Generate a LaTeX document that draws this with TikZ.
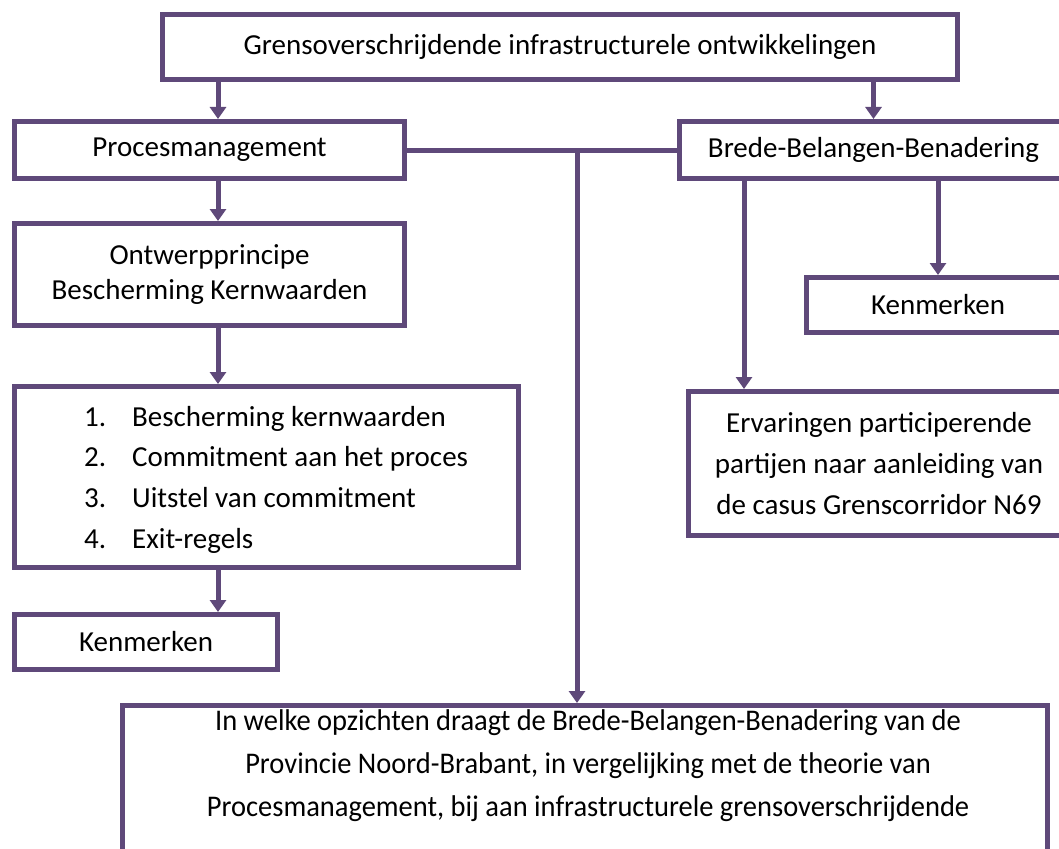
\documentclass[tikz,border=0pt]{standalone}
\usepackage{fontspec}
\setmainfont{Carlito}
\usetikzlibrary{arrows.meta,calc}
\definecolor{pc}{HTML}{5F497A}
\newcommand{\narrowline}[1]{\scalebox{0.95}[1]{#1}}
\begin{document}
\begin{tikzpicture}[x=1pt,y=-1pt,
  box/.style={draw=pc, line width=5pt, inner sep=0pt, fill=white, align=center,
    font=\fontsize{29}{35.4}\selectfont},
  arr/.style={draw=pc, line width=5pt, -{Triangle[width=16pt,length=12pt]}},
  ln/.style={draw=pc, line width=5pt},
  txt/.style={inner sep=0pt, align=center}]
\useasboundingbox (0,0) rectangle (1059,848);
% boxes
\node[box, minimum width=795pt, minimum height=65pt] (top) at (560,47) {Grensoverschrijdende infrastructurele ontwikkelingen};
\node[box, minimum width=390pt, minimum height=57pt] (proc) at (209.5,150) {Procesmanagement};
\node[box, minimum width=388pt, minimum height=57pt] (brede) at (873.5,150) {Brede-Belangen-Benadering};
\node[box, minimum width=390pt, minimum height=102pt] (ontw) at (209.5,274.5) {Ontwerpprincipe\\Bescherming Kernwaarden};
\node[box, minimum width=504pt, minimum height=181pt] (list) at (266.5,477) {};
\node[txt, anchor=west, font=\fontsize{29}{40.7}\selectfont] (listtext) at (84,479)
  {\begin{tabular}{@{}p{48pt}@{}l@{}}
   1. & Bescherming kernwaarden\\
   2. & Commitment aan het proces\\
   3. & Uitstel van commitment\\
   4. & Exit-regels
   \end{tabular}};
\node[box, minimum width=263pt, minimum height=55pt] (kenL) at (146,642) {Kenmerken};
\node[box, minimum width=263pt, minimum height=55pt] (kenR) at (938,305) {Kenmerken};
\node[box, minimum width=381pt, minimum height=144pt, font=\fontsize{29}{40.7}\selectfont] (erv) at (879,463.5)
  {Ervaringen participerende\\partijen naar aanleiding van\\de casus Grenscorridor N69};
\node[box, minimum width=925pt, minimum height=195pt, anchor=north] (bot) at (585,703) {};
\node[txt, anchor=north, font=\fontsize{30}{43}\selectfont] (question) at (588,709)
  {\narrowline{In welke opzichten draagt de Brede-Belangen-Benadering van de}\\
   \narrowline{Provincie Noord-Brabant, in vergelijking met de theorie van}\\
   \narrowline{Procesmanagement, bij aan infrastructurele grensoverschrijdende}};
% connectors
\coordinate (xl) at (218,0);
\coordinate (xe) at (744,0);
\coordinate (j) at (577,150);
\draw[arr] (top.south -| xl) -- (proc.north -| xl);
\draw[arr] (proc.south -| xl) -- (ontw.north -| xl);
\draw[arr] (ontw.south -| xl) -- (list.north -| xl);
\draw[arr] (list.south -| xl) -- (kenL.north -| xl);
\draw[arr] (top.south -| brede.north) -- (brede.north);
\draw[ln] (proc.east) -- (brede.west);
\draw[arr] (j) -- (j |- bot.north);
\draw[arr] (brede.south -| xe) -- (erv.north -| xe);
\draw[arr] (brede.south -| kenR.north) -- (kenR.north);
\end{tikzpicture}
\end{document}
